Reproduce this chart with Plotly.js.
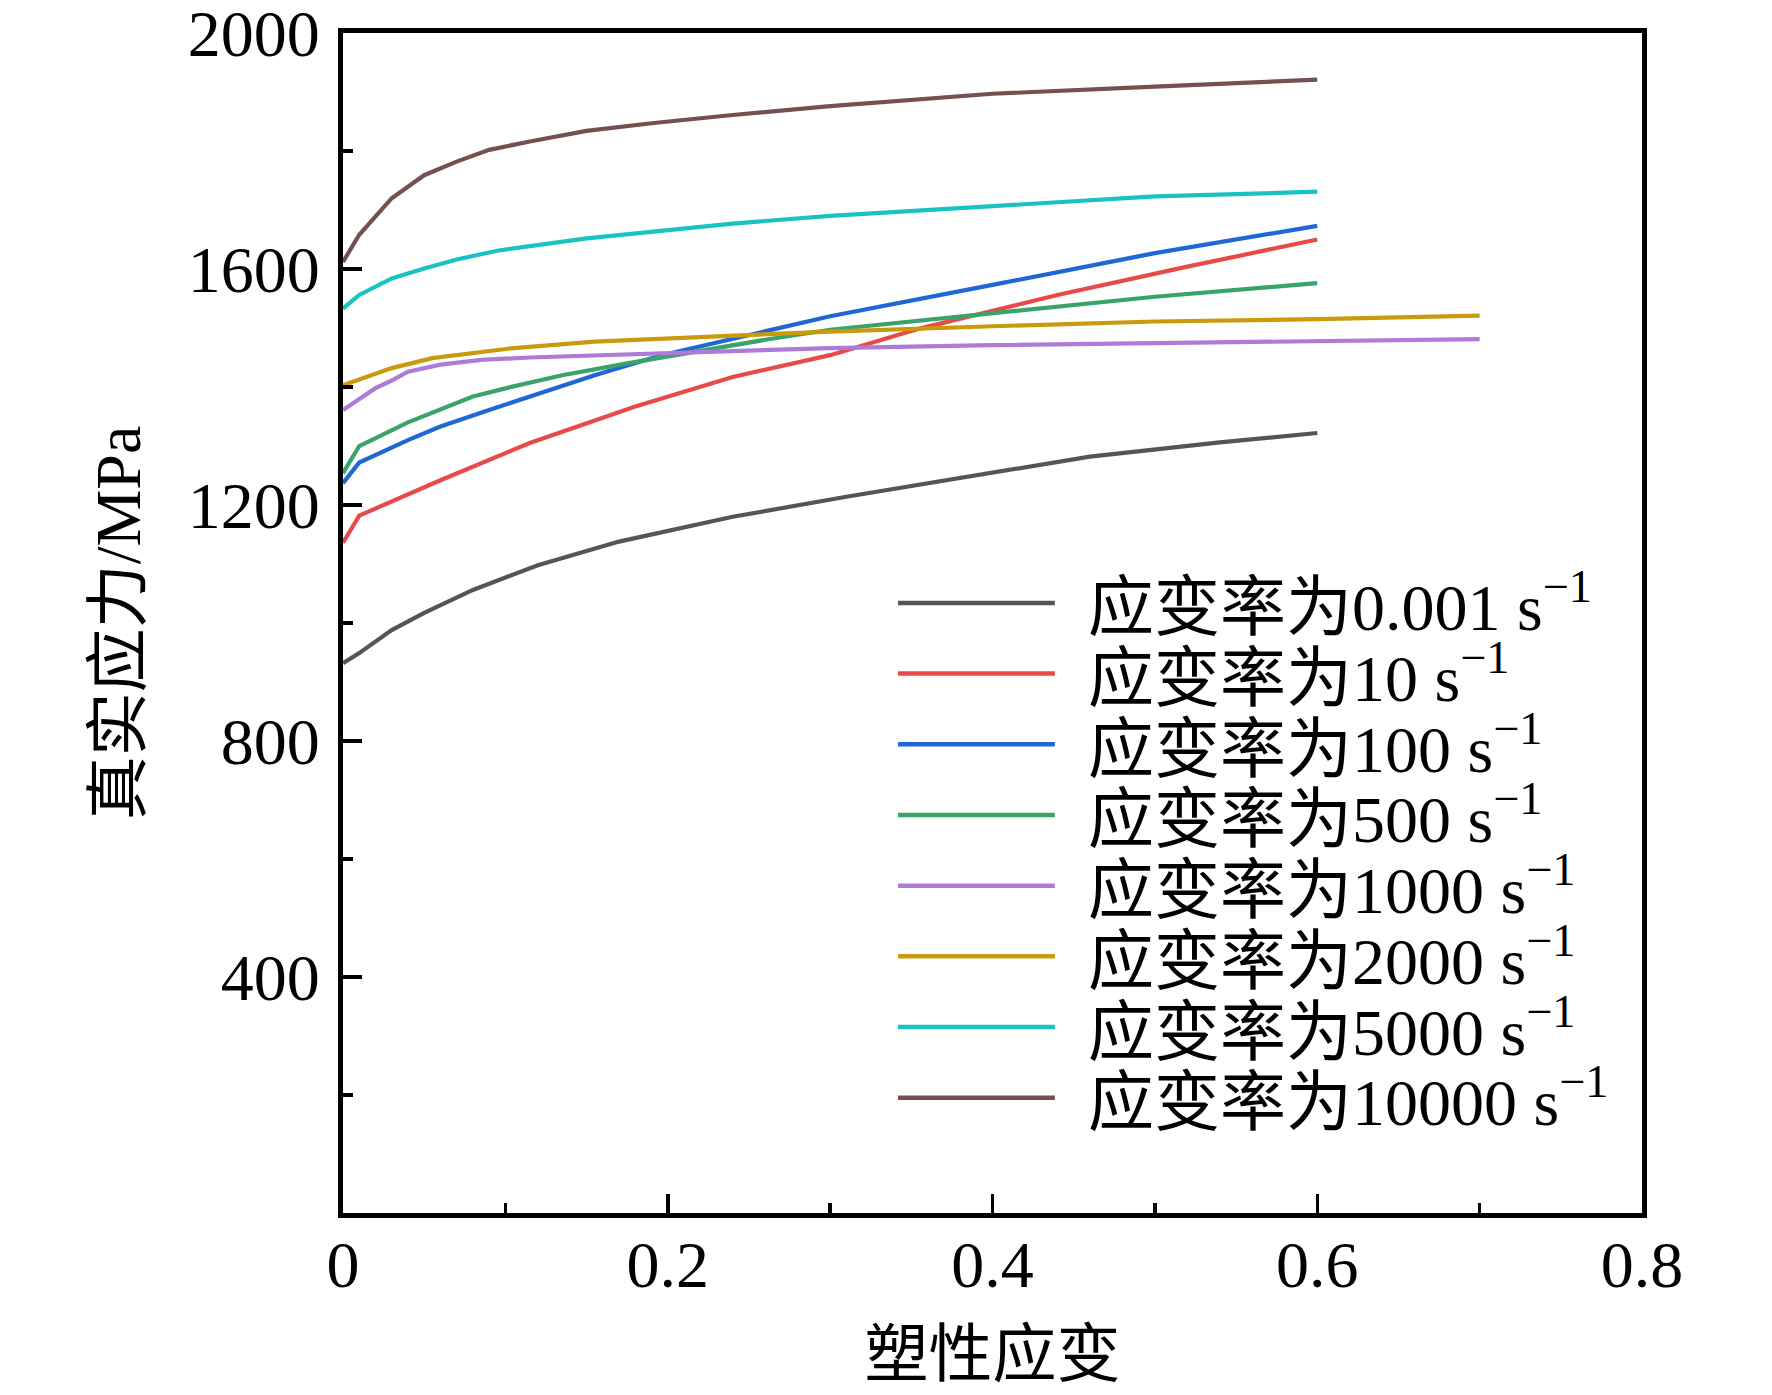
<!DOCTYPE html>
<html>
<head>
<meta charset="utf-8">
<script src="https://cdn.plot.ly/plotly-3.0.1.min.js"></script>
<style>
  body { margin: 0; background: #fff; }
  #chart { width: 1772px; height: 1395px; }
</style>
</head>
<body>
<div id="chart"></div>
<script>
// strain / stress readings per strain rate
const strain0001 = [0, 0.01, 0.03, 0.05, 0.08, 0.12, 0.17, 0.24, 0.31, 0.39, 0.46, 0.54, 0.6];
const stress0001 = [932, 949, 988, 1017, 1056, 1098, 1138, 1180, 1214, 1251, 1282, 1306, 1322];

const strain10 = [0, 0.01, 0.06, 0.115, 0.18, 0.24, 0.3, 0.355, 0.44, 0.52, 0.6];
const stress10 = [1136, 1182, 1242, 1305, 1367, 1417, 1454, 1499, 1556, 1604, 1650];

const strain100 = [0, 0.01, 0.04, 0.06, 0.09, 0.115, 0.155, 0.195, 0.24, 0.3, 0.4, 0.5, 0.6];
const stress100 = [1237, 1272, 1310, 1333, 1361, 1384, 1420, 1453, 1482, 1520, 1573, 1627, 1673];

const strain500 = [0, 0.01, 0.04, 0.06, 0.08, 0.105, 0.135, 0.175, 0.22, 0.26, 0.3, 0.4, 0.5, 0.6];
const stress500 = [1254, 1300, 1340, 1362, 1384, 1401, 1420, 1440, 1462, 1480, 1497, 1525, 1553, 1576];

const strain1000 = [0, 0.02, 0.03, 0.04, 0.06, 0.085, 0.115, 0.18, 0.24, 0.3, 0.4, 0.5, 0.6, 0.7];
const stress1000 = [1361, 1398, 1411, 1426, 1438, 1446, 1450, 1456, 1461, 1466, 1471, 1474, 1478, 1481];

const strain2000 = [0, 0.03, 0.055, 0.08, 0.105, 0.155, 0.2, 0.24, 0.3, 0.4, 0.5, 0.6, 0.7];
const stress2000 = [1403, 1432, 1449, 1458, 1466, 1477, 1482, 1488, 1494, 1503, 1511, 1515, 1521];

const strain5000 = [0, 0.01, 0.03, 0.05, 0.07, 0.095, 0.15, 0.2, 0.24, 0.3, 0.4, 0.5, 0.6];
const stress5000 = [1533, 1556, 1584, 1601, 1616, 1631, 1652, 1666, 1677, 1690, 1706, 1723, 1731];

const strain10000 = [0, 0.01, 0.03, 0.05, 0.07, 0.09, 0.115, 0.15, 0.19, 0.24, 0.3, 0.4, 0.5, 0.6];
const stress10000 = [1612, 1658, 1720, 1759, 1782, 1802, 1816, 1834, 1847, 1861, 1876, 1897, 1909, 1921];

const rateLabels = ['0.001', '10', '100', '500', '1000', '2000', '5000', '10000'];
const seriesColors = ['#555555', '#e84a4a', '#1f67d4', '#3aa36a', '#ae7bd9', '#c99a0c', '#19c3c3', '#765050'];

const xTickVals = [0, 0.2, 0.4, 0.6, 0.8];
const xTickText = ['0', '0.2', '0.4', '0.6', '0.8'];
const xMinorVals = [0.1, 0.3, 0.5, 0.7];
const yTickVals = [400, 800, 1200, 1600, 2000];
const yMinorVals = [200, 600, 1000, 1400, 1800];

const xs = [strain0001, strain10, strain100, strain500, strain1000, strain2000, strain5000, strain10000];
const ys = [stress0001, stress10, stress100, stress500, stress1000, stress2000, stress5000, stress10000];

const FONT = '"Liberation Serif", "Times New Roman", "Noto Sans CJK SC", serif';

const traces = xs.map((x, i) => ({
    x: x,
    y: ys[i],
    type: 'scatter',
    mode: 'lines',
    name: '应变率为' + rateLabels[i] + ' s<sup>−1</sup>',
    line: { color: seriesColors[i], width: 4.2 },
    showlegend: false,
    hoverinfo: 'none'
}));

// hand-made legend so the row spacing and key length follow the original
const legTop = 0.517, legStep = 0.0599;
const shapes = [];
const annotations = [];
rateLabels.forEach((r, i) => {
    const yy = legTop - i * legStep;
    shapes.push({
        type: 'line', xref: 'paper', yref: 'paper',
        x0: 0.4273, x1: 0.548, y0: yy, y1: yy,
        line: { color: seriesColors[i], width: 4.5 }
    });
    annotations.push({
        xref: 'paper', yref: 'paper', x: 0.572, y: yy,
        xanchor: 'left', yanchor: 'middle', showarrow: false,
        text: '应变率为' + r + ' s<sup>−1</sup>',
        font: { family: FONT, size: 66, color: '#000' }
    });
});

const axisCommon = {
    showline: true,
    linecolor: '#000',
    linewidth: 5,
    mirror: true,
    showgrid: false,
    zeroline: false,
    ticks: 'inside',
    ticklen: 19,
    tickwidth: 3.5,
    tickcolor: '#000',
    tickfont: { family: FONT, size: 66, color: '#000' },
    ticklabeloverflow: 'allow',
    fixedrange: true
};

const layout = {
    width: 1772,
    height: 1395,
    margin: { l: 343, r: 130, t: 33, b: 182 },
    paper_bgcolor: '#fff',
    plot_bgcolor: '#fff',
    showlegend: false,
    xaxis: Object.assign({}, axisCommon, {
        range: [0, 0.8],
        tickmode: 'array',
        tickvals: xTickVals,
        ticktext: xTickText,
        minor: { tickmode: 'array', tickvals: xMinorVals, ticks: 'inside', ticklen: 10, tickwidth: 3.5, tickcolor: '#000' },
        ticklabelstandoff: -10,
        title: {
            text: '塑性应变',
            font: { family: FONT, size: 64, color: '#000' },
            standoff: 32
        }
    }),
    yaxis: Object.assign({}, axisCommon, {
        range: [0, 2000],
        tickmode: 'array',
        tickvals: yTickVals,
        minor: { tickmode: 'array', tickvals: yMinorVals, ticks: 'inside', ticklen: 10, tickwidth: 3.5, tickcolor: '#000' },
        ticklabelstandoff: 5,
        title: {
            text: '真实应力/MPa',
            font: { family: FONT, size: 64, color: '#000' },
            standoff: 28
        }
    }),
    shapes: shapes,
    annotations: annotations
};

const config = { displayModeBar: false, staticPlot: true };

Plotly.newPlot('chart', traces, layout, config);
</script>
</body>
</html>
